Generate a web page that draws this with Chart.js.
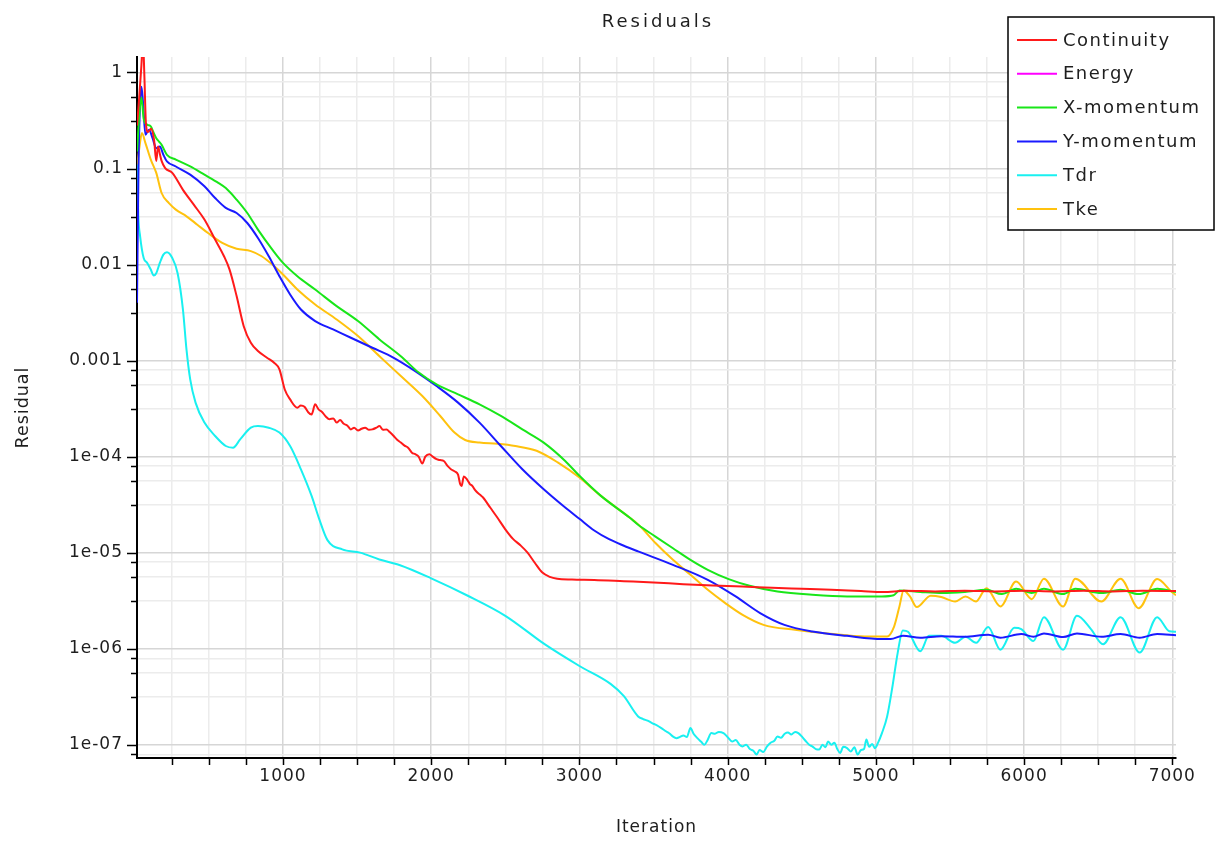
<!DOCTYPE html>
<html>
<head>
<meta charset="utf-8">
<title>Residuals</title>
<script src="https://cdn.jsdelivr.net/npm/chart.js@4.4.1/dist/chart.umd.min.js"></script>
<style>
  html, body { margin: 0; padding: 0; background: #fff; }
  #wrap { width: 1221px; height: 846px; }
</style>
</head>
<body>
<div id="wrap"><canvas id="residuals" width="1221" height="846"></canvas></div>
<script>
// Solver residual history, one iteration array + one value array per equation
const contIter = [15,30,45,55,65,75,90,110,130,145,157,170,181,205,253,325,398,470,542,602,639,687,735,783,831,892,940,976,1012,1048,1097,1120,1145,1170,1193,1217,1240,1265,1290,1313,1340,1362,1385,1410,1435,1458,1480,1506,1530,1554,1580,1603,1630,1651,1675,1699,1720,1747,1770,1795,1820,1844,1870,1892,1915,1940,1960,1988,2010,2036,2060,2085,2110,2133,2160,2181,2195,2205,2220,2241,2260,2277,2295,2313,2330,2350,2398,2446,2500,2550,2600,2650,2700,2750,2800,2850,2950,3100,3300,3500,3700,3900,4100,4300,4500,4700,4900,5050,5200,5400,5600,5800,6000,6200,6400,6600,6800,7025];
const contVal = [0.28,0.55,1.2,2.2,0.9,0.3,0.24,0.26,0.2,0.12,0.17,0.14,0.12,0.101,0.09,0.06,0.042,0.0294,0.0182,0.0122,0.0089,0.0047,0.00228,0.00153,0.00126,0.00107,0.00095,0.00081,0.0005,0.000394,0.000323,0.00034,0.00033,0.00029,0.000275,0.00035,0.00031,0.00029,0.00026,0.000245,0.00025,0.000226,0.00024,0.00022,0.00021,0.000192,0.0002,0.000187,0.000195,0.0002,0.00019,0.000192,0.0002,0.000208,0.00019,0.000192,0.00018,0.000164,0.00015,0.00014,0.00013,0.000124,0.00011,0.000106,0.0001,0.000085,0.0001,0.000106,0.0001,0.000094,0.000092,0.00009,0.00008,0.000074,0.00007,0.000065,0.000052,0.0000495,0.000062,0.000058,0.000052,0.0000495,0.000045,0.000042,0.00004,0.0000375,0.0000295,0.0000232,0.0000175,0.000014,0.000012,0.00001,0.0000078,0.0000062,0.0000056,0.00000535,0.00000525,0.0000052,0.00000505,0.0000049,0.0000047,0.00000455,0.00000445,0.0000043,0.0000042,0.0000041,0.00000398,0.0000039,0.000004,0.00000395,0.000004,0.00000395,0.00000402,0.00000395,0.00000402,0.00000395,0.000004,0.00000398];

const energyIter = [];
const energyVal = [];

const xmomIter = [15,30,45,60,84,108,125,145,165,181,217,277,374,470,566,614,687,759,831,928,1000,1097,1217,1362,1506,1651,1795,1916,2036,2181,2326,2470,2615,2759,2904,3000,3145,3338,3396,3513,3631,3749,3866,4007,4148,4336,4571,4806,5041,5120,5159,5300,5450,5600,5746,5850,5946,6050,6134,6263,6346,6522,6651,6773,6898,7025];
const xmomVal = [0.15,0.35,0.55,0.33,0.286,0.275,0.24,0.207,0.19,0.177,0.139,0.124,0.105,0.0863,0.0706,0.0626,0.0474,0.0344,0.0231,0.0143,0.0104,0.00756,0.0055,0.00369,0.00258,0.00166,0.00111,0.00075,0.000565,0.000445,0.00035,0.000265,0.000192,0.00014,0.0000902,0.0000631,0.000039,0.0000232,0.0000195,0.0000147,0.0000111,0.00000842,0.00000663,0.0000053,0.00000452,0.00000394,0.00000364,0.0000035,0.0000035,0.0000036,0.00000404,0.0000039,0.0000038,0.0000039,0.0000041,0.0000037,0.0000042,0.0000038,0.0000042,0.0000037,0.0000042,0.0000038,0.0000041,0.0000037,0.0000042,0.0000039];

const ymomIter = [15,25,35,45,55,72,96,120,145,169,193,217,277,374,470,542,614,687,759,831,904,976,1048,1121,1217,1338,1458,1603,1747,1892,2036,2181,2326,2470,2615,2759,2904,3000,3100,3200,3300,3396,3631,3866,4054,4219,4383,4571,4806,5041,5100,5182,5300,5441,5600,5758,5840,5981,6063,6134,6263,6357,6522,6651,6780,6898,7025];
const ymomVal = [0.004,0.1,0.45,0.71,0.5,0.225,0.254,0.207,0.163,0.17,0.139,0.119,0.105,0.0863,0.0653,0.0493,0.0389,0.0344,0.0271,0.0189,0.0122,0.00757,0.00488,0.0034,0.00258,0.00211,0.00173,0.00136,0.00107,0.000778,0.000543,0.000365,0.000226,0.000129,0.0000738,0.0000457,0.0000295,0.0000225,0.000017,0.0000138,0.0000118,0.0000103,0.00000747,0.00000521,0.0000035,0.00000235,0.00000177,0.00000151,0.00000136,0.00000126,0.00000126,0.00000136,0.0000013,0.00000135,0.00000133,0.0000014,0.0000013,0.00000142,0.00000133,0.00000144,0.00000132,0.00000144,0.00000133,0.00000142,0.0000013,0.00000142,0.00000138];

const tdrIter = [15,24,36,60,84,108,128,145,169,193,217,253,289,325,349,374,410,470,542,614,663,711,783,831,904,976,1048,1121,1193,1241,1300,1400,1520,1650,1790,2000,2240,2500,2770,3000,3210,3300,3396,3430,3460,3490,3520,3550,3584,3610,3630,3655,3675,3702,3725,3749,3770,3796,3820,3843,3865,3890,3915,3940,3972,4000,4031,4055,4080,4101,4125,4150,4175,4195,4215,4240,4266,4290,4315,4336,4360,4385,4407,4430,4455,4477,4500,4525,4550,4571,4595,4618,4640,4660,4677,4700,4720,4740,4759,4780,4806,4830,4855,4877,4900,4920,4936,4955,4975,4994,5015,5041,5076,5112,5147,5182,5217,5300,5358,5441,5535,5605,5676,5758,5840,5934,5981,6063,6134,6263,6357,6451,6533,6651,6780,6898,6980,7025];
const tdrVal = [0.11,0.0318,0.0197,0.0117,0.0104,0.00887,0.00769,0.00813,0.0104,0.0127,0.0134,0.0117,0.00813,0.0034,0.0013,0.000637,0.000365,0.000226,0.000164,0.000129,0.000124,0.000151,0.0002,0.000208,0.0002,0.000178,0.000129,0.0000738,0.000039,0.0000232,0.0000135,0.0000108,0.00001,0.0000085,0.0000074,0.0000054,0.0000036,0.0000022,0.0000011,0.00000066,0.00000043,0.00000032,1.97e-7,1.85e-7,1.78e-7,1.68e-7,1.6e-7,1.5e-7,1.38e-7,1.3e-7,1.22e-7,1.17e-7,1.2e-7,1.25e-7,1.2e-7,1.49e-7,1.3e-7,1.17e-7,1.08e-7,1.0e-7,1.12e-7,1.32e-7,1.3e-7,1.36e-7,1.32e-7,1.2e-7,1.08e-7,1.12e-7,1.0e-7,9.6e-8,1.0e-7,9.0e-8,8.6e-8,7.9e-8,8.8e-8,8.4e-8,9.6e-8,1.05e-7,1.1e-7,1.22e-7,1.18e-7,1.3e-7,1.34e-7,1.28e-7,1.36e-7,1.32e-7,1.22e-7,1.1e-7,1.0e-7,9.6e-8,9.0e-8,8.9e-8,1.0e-7,9.4e-8,1.08e-7,1.0e-7,1.05e-7,9.0e-8,8.2e-8,9.5e-8,9.2e-8,8.5e-8,9.4e-8,7.9e-8,8.8e-8,9.0e-8,1.13e-7,9.5e-8,1.02e-7,9.2e-8,1.05e-7,1.32e-7,1.97e-7,4.04e-7,9.0e-7,1.55e-6,1.5e-6,9.4e-7,1.36e-6,1.36e-6,1.15e-6,1.33e-6,1.15e-6,1.68e-6,9.75e-7,1.65e-6,1.6e-6,1.2e-6,2.13e-6,9.75e-7,2.2e-6,1.6e-6,1.11e-6,2.13e-6,9.1e-7,2.13e-6,1.52e-6,1.5e-6];

const tkeIter = [15,30,48,72,108,145,181,229,277,349,422,494,590,687,783,856,928,1000,1097,1217,1362,1506,1651,1795,1940,2061,2157,2229,2326,2446,2567,2711,2856,3000,3145,3338,3396,3513,3631,3749,3866,3984,4101,4242,4454,4689,4923,5076,5123,5159,5187,5230,5276,5370,5441,5535,5605,5676,5746,5840,5946,6052,6134,6263,6346,6522,6651,6773,6898,6992,7025];
const tkeVal = [0.105,0.16,0.234,0.184,0.124,0.09,0.0556,0.0438,0.0373,0.0318,0.026,0.0213,0.0168,0.0146,0.0138,0.0122,0.01,0.00787,0.0055,0.00384,0.00268,0.0018,0.00111,0.00069,0.000427,0.000265,0.000178,0.000149,0.00014,0.000136,0.000129,0.000115,0.0000866,0.0000605,0.000039,0.0000232,0.0000197,0.0000126,0.00000842,0.00000588,0.0000041,0.00000298,0.00000225,0.00000177,0.00000157,0.00000143,0.00000134,0.00000134,0.0000017,0.00000275,0.00000404,0.0000035,0.00000271,0.00000356,0.00000345,0.0000031,0.0000035,0.0000031,0.00000427,0.00000275,0.000005,0.00000328,0.00000535,0.00000275,0.00000535,0.0000031,0.00000535,0.00000264,0.0000053,0.00000395,0.0000036];

const seriesNames = ["Continuity","Energy","X-momentum","Y-momentum","Tdr","Tke"];
const seriesColors = ["#ff1a1a","#ff00ff","#19e619","#1a1aff","#19f0f0","#ffc20e"];
const seriesIters = [contIter, energyIter, xmomIter, ymomIter, tdrIter, tkeIter];
const seriesVals = [contVal, energyVal, xmomVal, ymomVal, tdrVal, tkeVal];

// axis setup
const xMin = 15, xMax = 7025;
const xTickValues = [250,500,750,1000,1250,1500,1750,2000,2250,2500,2750,3000,3250,3500,3750,4000,4250,4500,4750,5000,5250,5500,5750,6000,6250,6500,6750,7000];
const yMin = 7.27e-8, yMax = 1.45;
const yMajorValues = [1,0.1,0.01,0.001,1e-4,1e-5,1e-6,1e-7];
const yMajorLabels = ["1","0.1","0.01","0.001","1e-04","1e-05","1e-06","1e-07"];
const yMinorSteps = [0.5,0.75,0.9]; // decade fractions of the minor ticks

const chartTitle = "Residuals";
const textColor = "#1e1e1e";
const fontFamily = "'DejaVu Sans', sans-serif";

function isMajorY(v){ return yMajorValues.some(m => Math.abs(Math.log10(v) - Math.log10(m)) < 1e-6); }
function yTickList(){
  const list = yMajorValues.slice();
  for(let k=-8;k<=0;k++) yMinorSteps.forEach(f => list.push(Math.pow(10, k+f)));
  return list.filter(v => v >= yMin && v <= yMax).sort((a,b)=>a-b);
}

const datasets = seriesNames.map((name,i) => ({
  label: name,
  data: seriesIters[i].map((it,j) => ({ x: it, y: seriesVals[i][j] })),
  borderColor: seriesColors[i],
  backgroundColor: seriesColors[i],
  borderWidth: 2,
  pointRadius: 0,
  fill: false,
  cubicInterpolationMode: "monotone"
}));

const spacing = {
  id: "spacing",
  beforeDraw(chart){ chart.ctx.letterSpacing = "1px"; }
};

// title centred over the plot area, outer tick marks, boxed legend
const decorations = {
  id: "decorations",
  afterDraw(chart){
    const {ctx, chartArea: a, scales: {x, y}} = chart;
    ctx.save();

    ctx.letterSpacing = "3px";
    ctx.font = "18px " + fontFamily;
    ctx.fillStyle = textColor;
    ctx.textAlign = "center";
    ctx.textBaseline = "middle";
    ctx.fillText(chartTitle, (a.left + a.right) / 2 + 1.5, 22);

    ctx.strokeStyle = "#000";
    ctx.lineWidth = 1.5;
    ctx.beginPath();
    x.ticks.forEach(t => {
      const px = Math.round(x.getPixelForValue(t.value)) + 0.5;
      ctx.moveTo(px, a.bottom); ctx.lineTo(px, a.bottom + 7);
    });
    y.ticks.forEach(t => {
      const py = Math.round(y.getPixelForValue(t.value)) + 0.5;
      const len = isMajorY(t.value) ? 10 : 6;
      ctx.moveTo(a.left - len, py); ctx.lineTo(a.left, py);
    });
    ctx.stroke();

    const bx = 1008, by = 17, bw = 206, bh = 213;
    ctx.fillStyle = "#fff";
    ctx.fillRect(bx, by, bw, bh);
    ctx.strokeRect(bx, by, bw, bh);
    ctx.letterSpacing = "1.5px";
    ctx.font = "18px " + fontFamily;
    ctx.textAlign = "left";
    seriesNames.forEach((name,i) => {
      const ry = 40 + i*33.8;
      ctx.strokeStyle = seriesColors[i];
      ctx.lineWidth = 2;
      ctx.beginPath(); ctx.moveTo(1017, ry); ctx.lineTo(1057, ry); ctx.stroke();
      ctx.fillStyle = textColor;
      ctx.fillText(name, 1063, ry + 1);
    });
    ctx.restore();
  }
};

new Chart(document.getElementById("residuals"), {
  type: "line",
  data: { datasets },
  plugins: [spacing, decorations],
  options: {
    responsive: false,
    animation: false,
    parsing: false,
    layout: { padding: { left: 0, right: 45, top: 57, bottom: 0 } },
    plugins: {
      legend: { display: false },
      tooltip: { enabled: false },
      title: { display: false }
    },
    scales: {
      x: {
        type: "linear", min: xMin, max: xMax,
        afterBuildTicks: s => { s.ticks = xTickValues.map(v => ({ value: v })); },
        afterFit: s => { s.height = 88; s.paddingLeft = 0; s.paddingRight = 0; },
        ticks: {
          autoSkip: false, maxRotation: 0, padding: 8, color: textColor,
          font: { family: fontFamily, size: 17 },
          callback: v => v % 1000 === 0 ? String(v) : ""
        },
        grid: {
          drawTicks: false, lineWidth: 1.5,
          color: c => (c.tick && c.tick.value % 1000 === 0) ? "#d6d6d6" : "#ececec"
        },
        border: { color: "#000", width: 2 },
        title: {
          display: true, text: "Iteration", color: textColor,
          font: { family: fontFamily, size: 17, lineHeight: 1.2 },
          padding: { top: 0, bottom: 8 }
        }
      },
      y: {
        type: "logarithmic", min: yMin, max: yMax,
        afterBuildTicks: s => { s.ticks = yTickList().map(v => ({ value: v })); },
        afterFit: s => { s.width = 137; s.paddingTop = 0; s.paddingBottom = 0; },
        ticks: {
          autoSkip: false, padding: 14, color: textColor,
          font: { family: fontFamily, size: 17 },
          callback: v => {
            const i = yMajorValues.findIndex(m => Math.abs(Math.log10(v) - Math.log10(m)) < 1e-6);
            return i >= 0 ? yMajorLabels[i] : "";
          }
        },
        grid: {
          drawTicks: false, lineWidth: 1.5,
          color: c => (c.tick && isMajorY(c.tick.value)) ? "#d6d6d6" : "#ececec"
        },
        border: { color: "#000", width: 2 },
        title: {
          display: true, text: "Residual", color: textColor,
          font: { family: fontFamily, size: 17.5, lineHeight: 1.2 },
          padding: { top: 13, bottom: 0 }
        }
      }
    }
  }
});
</script>
</body>
</html>
